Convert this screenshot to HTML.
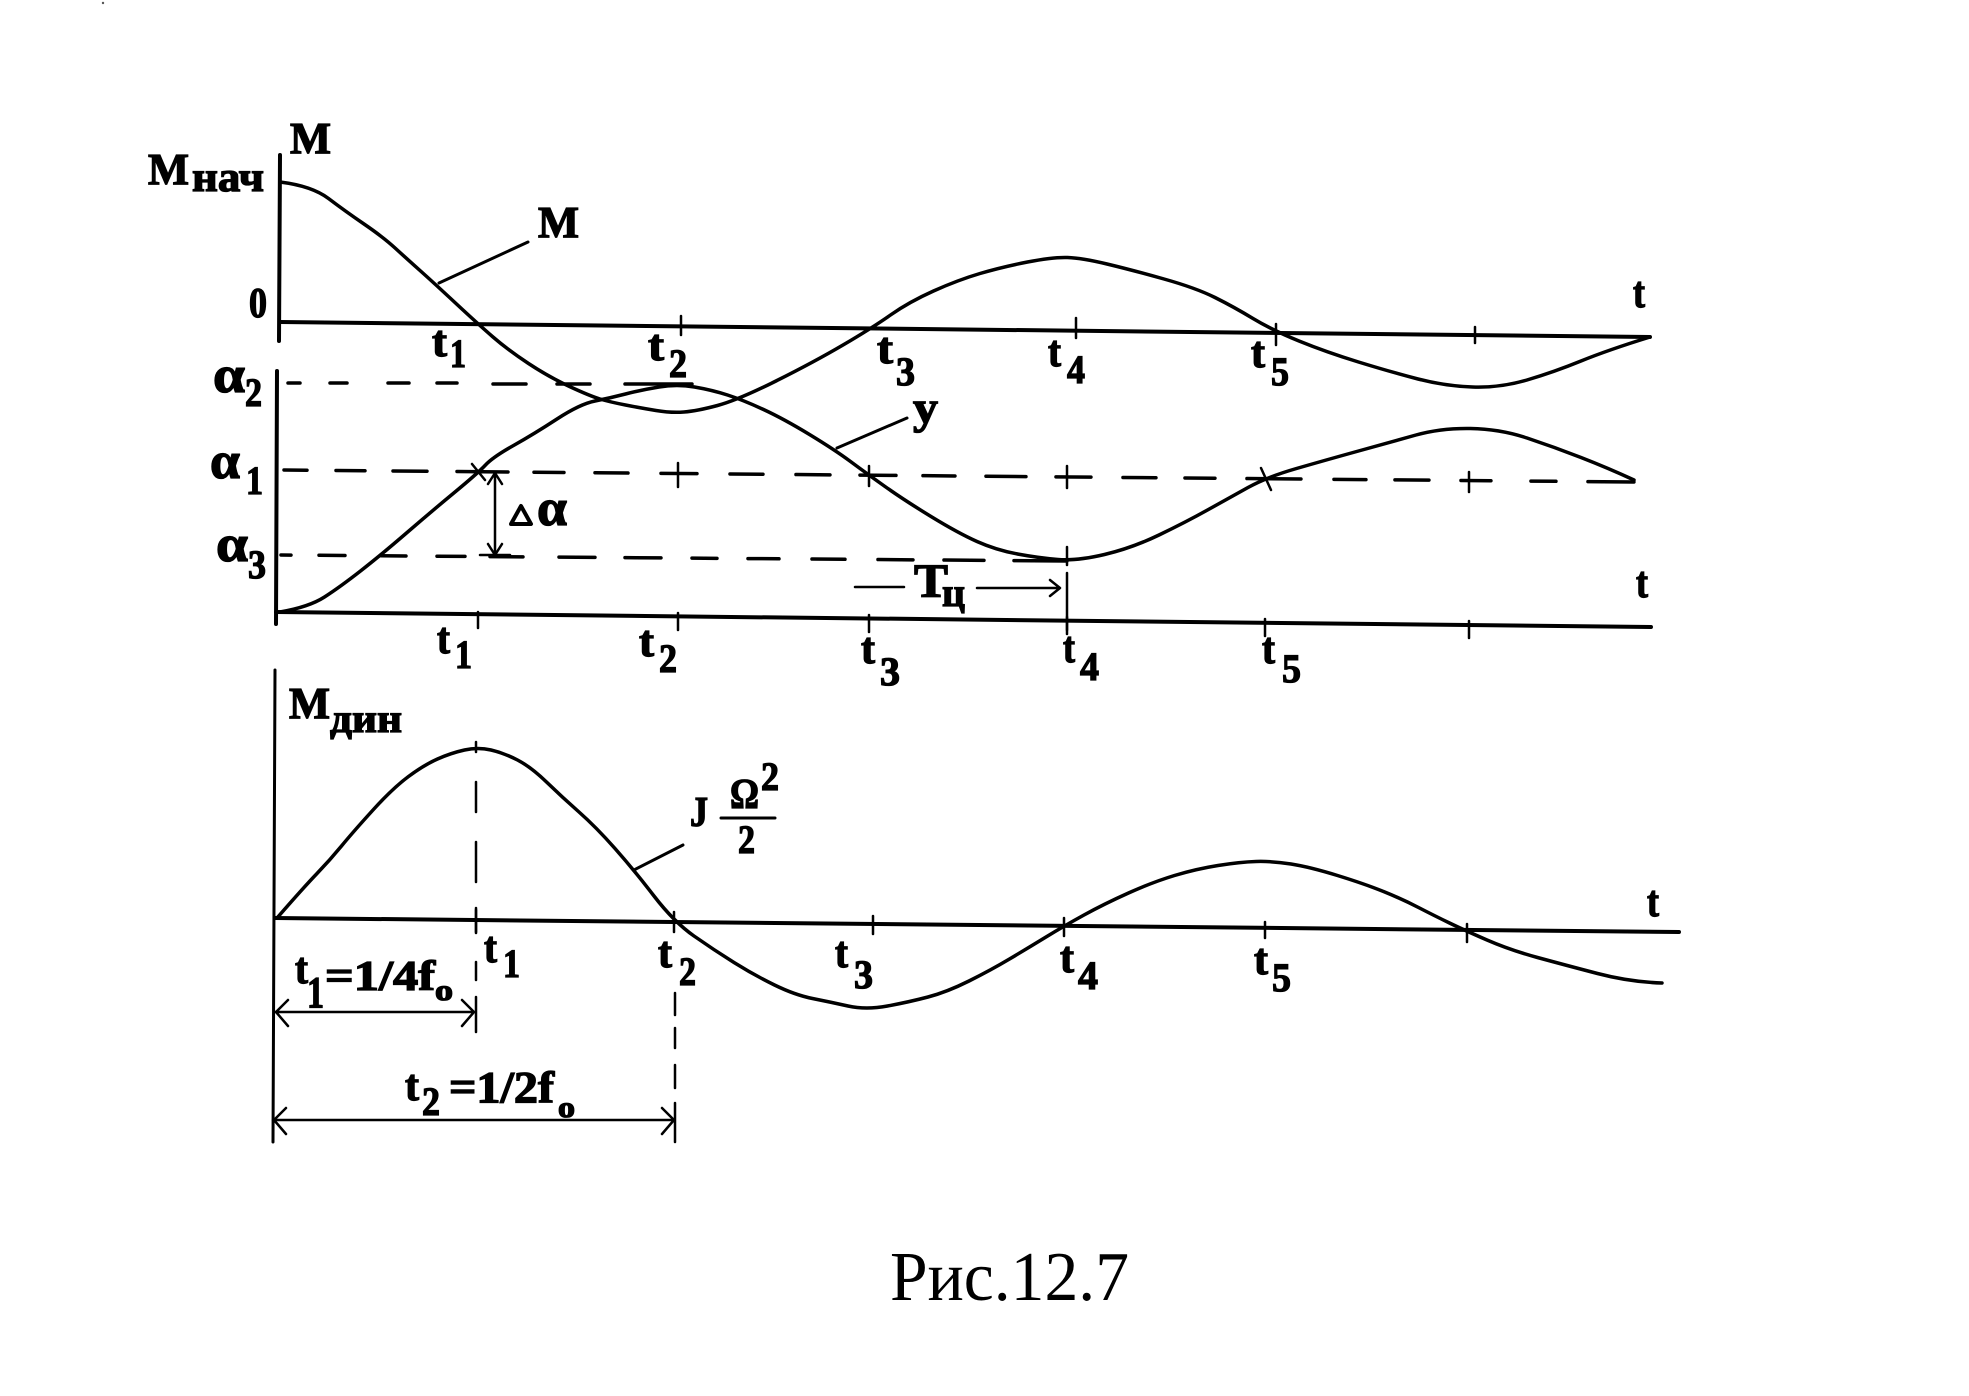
<!DOCTYPE html>
<html lang="ru">
<head>
<meta charset="utf-8">
<title>Рис.12.7</title>
<style>
html,body{margin:0;padding:0;background:#fff;width:1969px;height:1396px;overflow:hidden}
svg{display:block}
text{font-family:"Liberation Serif","DejaVu Serif",serif;font-weight:bold;fill:#000;stroke:#000;stroke-width:1.3px}
.s{font-size:40px}
.t{font-size:44px}
.a{font-size:52px}
.c{font-size:44px}
.l{fill:none;stroke:#000;stroke-linejoin:round;stroke-linecap:round}
</style>
</head>
<body>
<svg width="1969" height="1396" viewBox="0 0 1969 1396" xmlns="http://www.w3.org/2000/svg">
<rect width="1969" height="1396" fill="#fff"/>
<circle cx="103" cy="3" r="1.2" fill="#555"/>

<!-- Axes -->
<g class="l" stroke-width="4">
<path d="M280 155L279 341"/>
<path d="M280 322L1650 337"/>
<path d="M277 371L276 624"/>
<path d="M276 612L1651 627"/>
<path d="M275 670L273 1142" stroke-width="3"/>
<path d="M275 918L1679 932"/>
</g>

<!-- Ticks -->
<g class="l" stroke-width="2.5">
<path d="M681 316V335M1076 318V338M1276 324V345M1475 327V343"/>
<path d="M478 612V628M678 613V630M869 615V632M1067 617V634M1265 619V636M1469 621V638"/>
<path d="M476 908V932M674 912V932M873 916V934M1064 918V936M1265 922V938M1467 924V942"/>
<path d="M476 742V752"/>
<path d="M678 463V487M1067 466V488M1469 472V492M869 466V486"/>
<path d="M472 464L485 480M1261 468L1271 490"/>
</g>

<!-- Dashed levels -->
<g class="l" stroke-linecap="butt" stroke-width="3.5">
<path d="M288 383H300M330 383H347M388 383H409M437 383H457M493 384H526M557 384H590M625 384H692"/>
<line x1="284" y1="470" x2="1635" y2="482" stroke-dasharray="23 29 29 28 34 30 51 26 30 31 33 33 36 33 33 33 34 30 36 27 32 31 40 30 35 32 33 29 30 32 54 33 32 29 34 32 30 40 25 32 46"/>
<line x1="281" y1="555" x2="1067" y2="561" stroke-dasharray="10 28 26 36 25 31 28 25 33 36 36 30 36 31 25 31 31 33 33 33 35 31 40 30 54"/>
<path stroke-width="2.5" d="M476 782V812M476 842V882M476 910V933M476 962V980M476 997V1032"/>
<path stroke-width="2.5" d="M675 993V1015M675 1028V1048M675 1065V1088M675 1103V1142"/>
<path stroke-width="2.5" d="M1067 547V565M1067 573V630"/>
</g>

<!-- Curves -->
<g class="l" stroke-width="3.5">
<path d="M280 182 Q312 186 328.5 198.5 Q345 211 364 224 Q383 237 394.5 247.5 Q406 258 420 270.5 Q434 283 456 303.5 Q478 324 493 337 Q508 350 528.5 363.5 Q549 377 569.5 386.5 Q590 396 600 399 Q610 402 625.5 405 Q641 408 656 410.5 Q671 413 684 412 Q697 411 717.5 405.5 Q738 400 776 381 Q814 362 843 345 Q872 328 890.5 315 Q909 302 933.5 291 Q958 280 980 273.5 Q1002 267 1027.5 262 Q1053 257 1067.5 257.5 Q1082 258 1107 264 Q1132 270 1164 279 Q1196 288 1215 297.5 Q1234 307 1253 318.5 Q1272 330 1299 341 Q1326 352 1358.5 362 Q1391 372 1418 379 Q1445 386 1472.5 387 Q1500 388 1527 380 Q1554 372 1581 361 Q1608 350 1650 337"/>
<path d="M280 612 Q309 607 324.5 597 Q340 587 360.5 571 Q381 555 406.5 533 Q432 511 455 492 Q478 473 485.5 465 Q493 457 513.5 445.5 Q534 434 557 419 Q580 404 595 401 Q610 398 625.5 394 Q641 390 659 387 Q677 384 694.5 387 Q712 390 727.5 395 Q743 400 763.5 409.5 Q784 419 809.5 434.5 Q835 450 850.5 461.5 Q866 473 885 486.5 Q904 500 931 516.5 Q958 533 977 541.5 Q996 550 1017.5 554 Q1039 558 1058 559.5 Q1077 561 1104.5 554.5 Q1132 548 1159 535 Q1186 522 1207.5 510 Q1229 498 1248 487.5 Q1267 477 1296.5 468.5 Q1326 460 1358.5 451 Q1391 442 1416 435 Q1441 428 1470.5 428.5 Q1500 429 1527 438 Q1554 447 1581 457.5 Q1608 468 1634 480"/>
<path d="M277 918 Q304 887 317 873.5 Q330 860 341.5 846 Q353 832 373 810 Q393 788 408.5 776.5 Q424 765 437.5 759 Q451 753 464.5 750 Q478 747 491 750 Q504 753 517.5 760 Q531 767 546.5 782 Q562 797 579 812 Q596 827 615 848.5 Q634 870 654 896 Q674 922 694 936 Q714 950 734 962.5 Q754 975 774.5 985 Q795 995 812.5 998.5 Q830 1002 848 1006 Q866 1010 887.5 1006 Q909 1002 928 997 Q947 992 969 981 Q991 970 1009.5 959 Q1028 948 1046 937 Q1064 926 1084 915 Q1104 904 1128.5 893 Q1153 882 1174.5 875.5 Q1196 869 1218 865.5 Q1240 862 1256 861.5 Q1272 861 1291 864 Q1310 867 1337.5 875.5 Q1365 884 1383.5 891.5 Q1402 899 1418.5 907.5 Q1435 916 1449.5 923 Q1464 930 1487 940 Q1510 950 1537.5 957.5 Q1565 965 1597.5 973.5 Q1630 982 1662 983"/>
</g>

<!-- Leaders -->
<g class="l" stroke-width="3">
<path d="M439 283L528 242"/>
<path d="M837 448L907 418"/>
<path d="M634 870L683 845"/>
<path d="M721 818H775"/>
</g>

<!-- Dimension arrows -->
<g class="l" stroke-width="2.5">
<path d="M495 473V555M488 484L495 473 502 484M488 544L495 555 502 544M480 555H510"/>
<path d="M855 587H904M977 588H1059M1050 580L1060 588 1050 596"/>
<path d="M275 1012H473M288 1000L276 1012 288 1026M462 1000L474 1012 462 1026"/>
<path d="M273 1120H674M286 1108L274 1120 286 1134M662 1108L674 1120 662 1134"/>
</g>

<!-- Labels -->
<text class="c" x="290" y="153" textLength="41" lengthAdjust="spacingAndGlyphs">M</text>
<text class="c" x="148" y="184" textLength="41" lengthAdjust="spacingAndGlyphs">M</text>
<text font-size="42" x="192" y="191" textLength="72" lengthAdjust="spacingAndGlyphs">нач</text>
<text font-size="42" x="249" y="317" textLength="18" lengthAdjust="spacingAndGlyphs">0</text>
<text class="c" x="538" y="237" textLength="41" lengthAdjust="spacingAndGlyphs">M</text>

<text class="t" x="432" y="356" textLength="15" lengthAdjust="spacingAndGlyphs">t</text><text class="s" x="450" y="367" textLength="16" lengthAdjust="spacingAndGlyphs">1</text>
<text class="t" x="648" y="360" textLength="16" lengthAdjust="spacingAndGlyphs">t</text><text class="s" x="669" y="377" textLength="18" lengthAdjust="spacingAndGlyphs">2</text>
<text class="t" x="877" y="363" textLength="16" lengthAdjust="spacingAndGlyphs">t</text><text class="s" x="896" y="385" textLength="19" lengthAdjust="spacingAndGlyphs">3</text>
<text class="t" x="1048" y="366" textLength="13" lengthAdjust="spacingAndGlyphs">t</text><text class="s" x="1067" y="383" textLength="18" lengthAdjust="spacingAndGlyphs">4</text>
<text class="t" x="1251" y="367" textLength="14" lengthAdjust="spacingAndGlyphs">t</text><text class="s" x="1271" y="385" textLength="18" lengthAdjust="spacingAndGlyphs">5</text>
<text class="t" x="1633" y="307" textLength="12" lengthAdjust="spacingAndGlyphs">t</text>

<text class="a" x="213" y="392" textLength="32" lengthAdjust="spacingAndGlyphs">α</text><text class="s" x="245" y="406" textLength="17" lengthAdjust="spacingAndGlyphs">2</text>
<text class="a" x="210" y="478" textLength="30" lengthAdjust="spacingAndGlyphs">α</text><text class="s" x="246" y="494" textLength="17" lengthAdjust="spacingAndGlyphs">1</text>
<text class="a" x="216" y="561" textLength="32" lengthAdjust="spacingAndGlyphs">α</text><text class="s" x="248" y="578" textLength="18" lengthAdjust="spacingAndGlyphs">3</text>

<path d="M511 524L521 506 531 524Z" fill="none" stroke="#000" stroke-width="4" stroke-linejoin="round"/>
<text class="a" x="537" y="525" textLength="30" lengthAdjust="spacingAndGlyphs">α</text>
<text font-size="46" x="913" y="423" textLength="25" lengthAdjust="spacingAndGlyphs">y</text>

<text font-size="48" x="914" y="597" textLength="34" lengthAdjust="spacingAndGlyphs">T</text>
<text font-size="40" x="942" y="606" textLength="23" lengthAdjust="spacingAndGlyphs">ц</text>

<text class="t" x="437" y="653" textLength="13" lengthAdjust="spacingAndGlyphs">t</text><text class="s" x="455" y="668" textLength="17" lengthAdjust="spacingAndGlyphs">1</text>
<text class="t" x="639" y="656" textLength="15" lengthAdjust="spacingAndGlyphs">t</text><text class="s" x="659" y="672" textLength="18" lengthAdjust="spacingAndGlyphs">2</text>
<text class="t" x="861" y="663" textLength="14" lengthAdjust="spacingAndGlyphs">t</text><text class="s" x="880" y="685" textLength="20" lengthAdjust="spacingAndGlyphs">3</text>
<text class="t" x="1063" y="662" textLength="12" lengthAdjust="spacingAndGlyphs">t</text><text class="s" x="1080" y="680" textLength="19" lengthAdjust="spacingAndGlyphs">4</text>
<text class="t" x="1262" y="663" textLength="13" lengthAdjust="spacingAndGlyphs">t</text><text class="s" x="1282" y="682" textLength="19" lengthAdjust="spacingAndGlyphs">5</text>
<text class="t" x="1636" y="597" textLength="12" lengthAdjust="spacingAndGlyphs">t</text>

<text class="c" x="289" y="718" textLength="41" lengthAdjust="spacingAndGlyphs">M</text>
<text font-size="40" x="330" y="732" textLength="72" lengthAdjust="spacingAndGlyphs">дин</text>

<text font-size="42" x="690" y="826" textLength="18" lengthAdjust="spacingAndGlyphs">J</text>
<text font-size="42" x="730" y="808" textLength="29" lengthAdjust="spacingAndGlyphs">Ω</text>
<text class="s" x="761" y="790" textLength="18" lengthAdjust="spacingAndGlyphs">2</text>
<text class="s" x="738" y="853" textLength="17" lengthAdjust="spacingAndGlyphs">2</text>

<text class="t" x="484" y="962" textLength="13" lengthAdjust="spacingAndGlyphs">t</text><text class="s" x="503" y="977" textLength="17" lengthAdjust="spacingAndGlyphs">1</text>
<text class="t" x="658" y="967" textLength="14" lengthAdjust="spacingAndGlyphs">t</text><text class="s" x="679" y="985" textLength="17" lengthAdjust="spacingAndGlyphs">2</text>
<text class="t" x="835" y="967" textLength="13" lengthAdjust="spacingAndGlyphs">t</text><text class="s" x="854" y="988" textLength="19" lengthAdjust="spacingAndGlyphs">3</text>
<text class="t" x="1060" y="972" textLength="14" lengthAdjust="spacingAndGlyphs">t</text><text class="s" x="1078" y="989" textLength="20" lengthAdjust="spacingAndGlyphs">4</text>
<text class="t" x="1254" y="974" textLength="14" lengthAdjust="spacingAndGlyphs">t</text><text class="s" x="1272" y="991" textLength="19" lengthAdjust="spacingAndGlyphs">5</text>
<text class="t" x="1647" y="916" textLength="12" lengthAdjust="spacingAndGlyphs">t</text>

<text class="t" x="295" y="983" textLength="13" lengthAdjust="spacingAndGlyphs">t</text>
<text font-size="44" x="307" y="1007" textLength="17" lengthAdjust="spacingAndGlyphs">1</text>
<text font-size="42" x="325" y="990" textLength="110" lengthAdjust="spacingAndGlyphs">=1/4f</text>
<text font-size="30" x="435" y="1000" textLength="18" lengthAdjust="spacingAndGlyphs">o</text>

<text class="t" x="405" y="1100" textLength="14" lengthAdjust="spacingAndGlyphs">t</text>
<text class="s" x="422" y="1115" textLength="18" lengthAdjust="spacingAndGlyphs">2</text>
<text font-size="44" x="449" y="1102" textLength="105" lengthAdjust="spacingAndGlyphs">=1/2f</text>
<text font-size="30" x="558" y="1117" textLength="17" lengthAdjust="spacingAndGlyphs">o</text>

<text x="890" y="1300" font-size="70" textLength="239" lengthAdjust="spacingAndGlyphs" style="font-weight:normal;stroke:none">Рис.12.7</text>
</svg>
</body>
</html>
